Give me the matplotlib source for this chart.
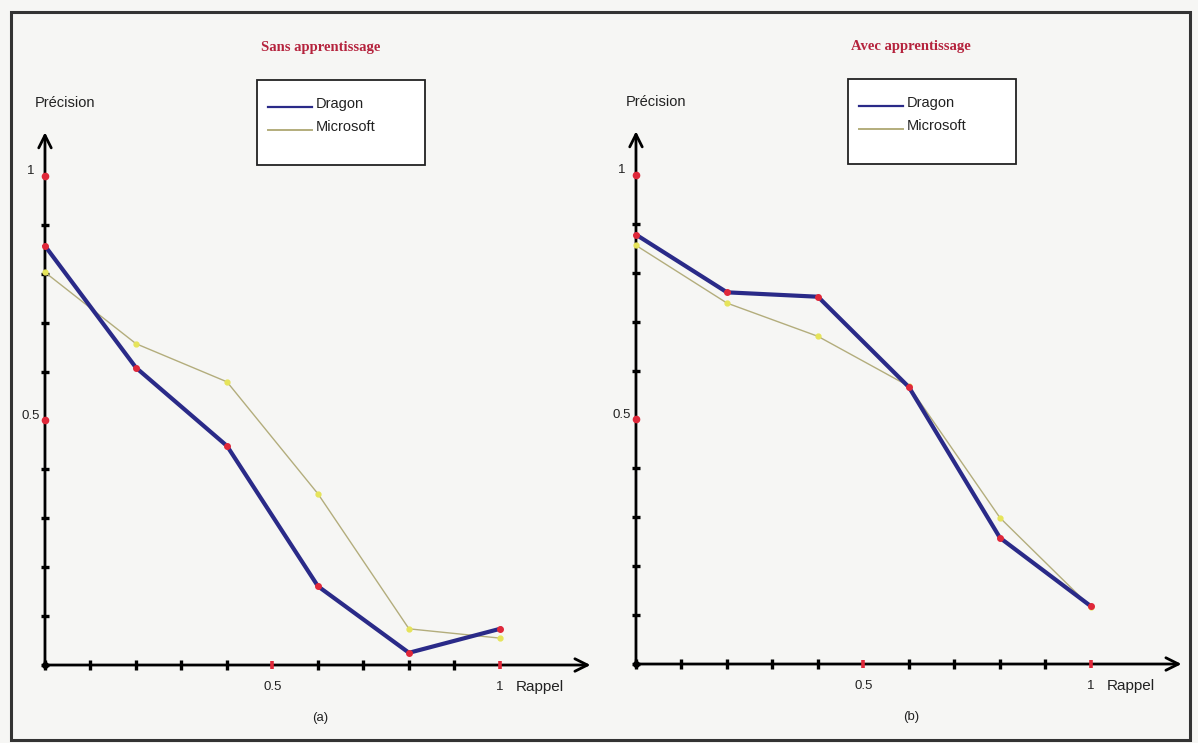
import matplotlib.pyplot as plt
import matplotlib as mpl
from matplotlib.patches import Rectangle
import numpy as np

# rappel levels (shared by both curves)
rappel = [0.0, 0.2, 0.4, 0.6, 0.8, 1.0]

# (a) sans apprentissage
dragon_a = [0.857, 0.608, 0.448, 0.161, 0.025, 0.074]
microsoft_a = [0.803, 0.657, 0.579, 0.350, 0.074, 0.055]

# (b) avec apprentissage
dragon_b = [0.878, 0.760, 0.751, 0.566, 0.258, 0.118]
microsoft_b = [0.856, 0.738, 0.670, 0.568, 0.299, 0.116]

titles = ["Sans apprentissage", "Avec apprentissage"]
tags = ["(a)", "(b)"]
series_names = ["Dragon", "Microsoft"]

BG = "#f6f6f4"
DRAGON = "#2a2a88"
MICROSOFT = "#b3ad7c"
TITLE_RED = "#b5233d"
INK = "#222222"

mpl.rcParams['font.family'] = ['Liberation Sans', 'DejaVu Sans']

W, H = 1198, 743
fig = plt.figure(figsize=(W / 100, H / 100), dpi=100, facecolor=BG)

# outer frame around both graphs
fig.patches.append(Rectangle((11 / W, 3 / H), 1179 / W, 728 / H, transform=fig.transFigure,
                             fill=False, edgecolor="#333333", lw=2.2, zorder=0))

xlim = (-0.0593, 1.2198)
ylim = (-0.139, 1.278)


def draw_panel(ax, dragon, microsoft, title, tag):
    ax.set_xlim(*xlim)
    ax.set_ylim(*ylim)
    ax.set_axis_off()

    # axes as arrows
    arrow = dict(arrowstyle="->,head_length=0.9,head_width=0.45", lw=2.0, color="black")
    ax.annotate("", xy=(1.205, 0), xytext=(-0.003, 0), arrowprops=arrow)
    ax.annotate("", xy=(0, 1.095), xytext=(0, -0.003), arrowprops=arrow)

    ticks = np.round(np.arange(0, 1.01, 0.1), 1)
    black = [t for t in ticks if t not in (0.5, 1.0)]
    red = [0.5, 1.0]
    ax.plot(black, np.zeros(len(black)), ls="none", marker="|", ms=7, mew=2.4, color="black", zorder=3)
    ax.plot(np.zeros(len(black)), black, ls="none", marker="_", ms=6, mew=2.4, color="black", zorder=3)
    ax.plot(red, np.zeros(2), ls="none", marker="|", ms=6, mew=2.6, color="#e0283a", zorder=4)
    ax.plot(np.zeros(2), red, ls="none", marker="o", ms=4.5, color="#e0283a", zorder=4)
    ax.plot([0], [0], ls="none", marker="o", ms=4, color="black", zorder=4)

    # curves
    ax.plot(rappel, microsoft, color=MICROSOFT, lw=1.0, zorder=5)
    ax.plot(rappel, microsoft, ls="none", marker="o", ms=3.5, color="#e6e45a", zorder=6)
    ax.plot(rappel, dragon, color=DRAGON, lw=3.0, solid_joinstyle="round", zorder=7)
    ax.plot(rappel, dragon, ls="none", marker="o", ms=4, color="#e0283a", zorder=8)

    # labels
    ax.text(-0.024, 1.01, "1", ha="right", va="center", fontsize=9.5, color=INK)
    ax.text(-0.012, 0.51, "0.5", ha="right", va="center", fontsize=9.5, color=INK)
    ax.text(0.5, -0.033, "0.5", ha="center", va="top", fontsize=9.5, color=INK)
    ax.text(1.0, -0.033, "1", ha="center", va="top", fontsize=9.5, color=INK)
    ax.text(1.035, -0.031, "Rappel", ha="left", va="top", fontsize=11, color=INK)
    ax.text(0.045, 1.149, "Précision", ha="center", va="center", fontsize=10.5, color=INK)
    ax.text(0.605, -0.108, tag, ha="center", va="center", fontsize=9.5, color=INK)
    ax.text(0.605, 1.262, title, ha="center", va="center", fontsize=10.5, color=TITLE_RED,
            family="Liberation Serif", fontweight="bold")

    # legend box
    ax.add_patch(Rectangle((0.466, 1.022), 0.369, 0.174, facecolor="white",
                           edgecolor="#222222", lw=1.3, zorder=9, clip_on=False))
    rows = [1.148, 1.101]
    styles = [(DRAGON, 1.6), (MICROSOFT, 1.4)]
    for name, y, (col, lw) in zip(series_names, rows, styles):
        ax.plot([0.49, 0.587], [y - 0.008, y - 0.008], color=col, lw=lw, zorder=10, clip_on=False)
        ax.text(0.596, y, name, ha="left", va="center", fontsize=10.5, color=INK, zorder=10)


ax_a = fig.add_axes([18 / W, 10 / H, 582 / W, 693 / H])
ax_b = fig.add_axes([609 / W, 11 / H, 582 / W, 693 / H])
for ax in (ax_a, ax_b):
    ax.set_facecolor("none")

draw_panel(ax_a, dragon_a, microsoft_a, titles[0], tags[0])
draw_panel(ax_b, dragon_b, microsoft_b, titles[1], tags[1])

fig.savefig("out.png", dpi=100, facecolor=BG)
